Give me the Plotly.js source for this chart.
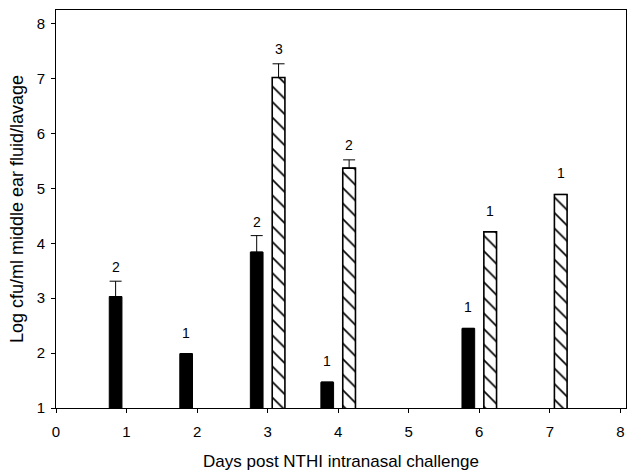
<!DOCTYPE html>
<html>
<head>
<meta charset="utf-8">
<script src="https://cdn.plot.ly/plotly-3.0.1.min.js"></script>
<style>html,body{margin:0;padding:0;background:#fff;}#chart{width:629px;height:474px;}</style>
</head>
<body>
<div id="chart"></div>
<script>
// Data
var solidDays = [1, 2, 3, 4, 6];
var solidValues = [3.03, 1.99, 3.84, 1.47, 2.45];
var solidErr = [0.28, 0, 0.30, 0, 0];
var solidN = ["2", "1", "2", "1", "1"];

var hatchDays = [3, 4, 6, 7];
var hatchValues = [7.02, 5.37, 4.21, 4.89];
var hatchErr = [0.25, 0.15, 0, 0];
var hatchN = ["3", "2", "1", "1"];

var xTicks = [0, 1, 2, 3, 4, 5, 6, 7, 8];
var yTicks = [1, 2, 3, 4, 5, 6, 7, 8];

var FONT = 'Liberation Sans, Arial, sans-serif';
var barW = 0.18;
var solid = {
  type: 'bar', x: solidDays, y: solidValues, width: barW, offset: -0.245,
  marker: {color: '#000', line: {color: '#000', width: 1}},
  error_y: {type: 'data', array: solidErr, arrayminus: solidErr.map(function(){return 0;}), symmetric: false,
            color: '#000', thickness: 1, width: 6, visible: true},
  showlegend: false, hoverinfo: 'skip'
};
var hatch = {
  type: 'bar', x: hatchDays, y: hatchValues, width: barW, offset: 0.065,
  marker: {color: '#fff', line: {color: '#000', width: 1.6},
           pattern: {shape: '\\', fgcolor: '#000', bgcolor: '#fff', size: 11, solidity: 0.15}},
  error_y: {type: 'data', array: hatchErr, arrayminus: hatchErr.map(function(){return 0;}), symmetric: false,
            color: '#000', thickness: 1, width: 6, visible: true},
  showlegend: false, hoverinfo: 'skip'
};

var annotations = [];
solidDays.forEach(function(d, i){
  annotations.push({x: d - 0.155, y: solidValues[i] + solidErr[i], text: solidN[i], showarrow: false,
    yanchor: 'bottom', yshift: solidErr[i] > 0 ? 4 : 11, font: {size: 14, color: '#000', family: FONT}});
});
hatchDays.forEach(function(d, i){
  annotations.push({x: d + 0.155, y: hatchValues[i] + hatchErr[i], text: hatchN[i], showarrow: false,
    yanchor: 'bottom', yshift: hatchErr[i] > 0 ? 5 : 11, font: {size: 14, color: '#000', family: FONT}});
});

var layout = {
  width: 629, height: 474,
  margin: {l: 56, r: 3, t: 10, b: 66},
  paper_bgcolor: '#fff', plot_bgcolor: '#fff',
  font: {family: FONT, color: '#000', size: 14},
  xaxis: {range: [0, 8.08], tickvals: xTicks, ticktext: xTicks.map(String), ticks: 'outside', ticklen: 4,
          tickcolor: '#000', showline: true, linecolor: '#000', linewidth: 1, mirror: true,
          showgrid: false, zeroline: false, tickfont: {size: 15}, ticklabelstandoff: 6,
          title: {text: 'Days post NTHI intranasal challenge', font: {size: 17}, standoff: 16}},
  yaxis: {range: [1, 8.25], tickvals: yTicks, ticktext: yTicks.map(String), ticks: 'outside', ticklen: 4,
          tickcolor: '#000', showline: true, linecolor: '#000', linewidth: 1, mirror: true,
          showgrid: false, zeroline: false, tickfont: {size: 15}, ticklabelstandoff: 3,
          title: {text: 'Log cfu/ml middle ear fluid/lavage', font: {size: 18}, standoff: 8}},
  annotations: annotations,
  bargap: 0
};

Plotly.newPlot('chart', [solid, hatch], layout, {staticPlot: true, displayModeBar: false});
</script>
</body>
</html>
